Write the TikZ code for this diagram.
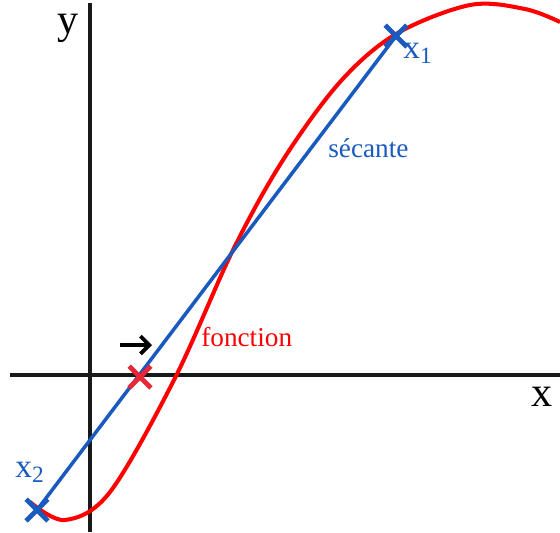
\documentclass[tikz,border=0pt]{standalone}
\usepackage{fontspec}
\setmainfont{Liberation Serif}
\usetikzlibrary{shapes.misc,arrows.meta}

\definecolor{secblue}{RGB}{25,90,190}
\definecolor{fnred}{RGB}{255,0,0}
\definecolor{markred}{RGB}{230,40,55}
\definecolor{axisblack}{RGB}{25,25,25}

\tikzset{
  pointmark/.style={cross out, draw, line width=2.7pt, minimum size=0.34cm, inner sep=0pt},
  axislabel/.style={font=\fontsize{24}{26}\selectfont, inner sep=0pt},
  pointlabel/.style={text=secblue, font=\fontsize{19}{21}\selectfont, inner sep=0pt},
  curvelabel/.style={font=\fontsize{15.5}{18}\selectfont, inner sep=0pt, anchor=base west}
}

\begin{document}
\begin{tikzpicture}[x=0.02cm, y=-0.02cm]
    \useasboundingbox (0,0) rectangle (560,532);

    % axes
    \draw[axisblack, line width=2.8pt] (10,375) -- (560,375);
    \draw[axisblack, line width=2.8pt] (90,3) -- (90,532);
    \node[axislabel] (xlab) at (542,397) {x};
    \node[axislabel] (ylab) at (68,28) {y};

    % fonction
    \draw[fnred, line width=2.3pt] plot[smooth, tension=0.55] coordinates {
        (30,502) (65,520) (110,492) (175,378) (233,250) (283,160)
        (340,82) (396,34) (470,5) (525,9) (560,22)};

    % secante
    \coordinate (p2) at (37,510);
    \coordinate (p1) at (396,36);
    \draw[secblue, line width=2pt] (p2) -- (p1);
    \node[pointmark, markred] (cut) at (140,377) {};
    \node[pointmark, secblue] (m2) at (p2) {};
    \node[pointmark, secblue] (m1) at (p1) {};
    \node[pointlabel] (l1) at (418,53) {x\textsubscript{1}};
    \node[pointlabel] (l2) at (30,472) {x\textsubscript{2}};

    \node[curvelabel, text=secblue] (seclab) at (328,157) {sécante};
    \node[curvelabel, text=fnred] (fnlab) at (201,346) {fonction};

    % deplacement
    \coordinate (shiftA) at (120,345);
    \coordinate (shiftB) at (152,345);
    \draw[black, line width=2.2pt, -{Straight Barb[length=5pt,width=10pt]}] (shiftA) -- (shiftB);
\end{tikzpicture}
\end{document}
